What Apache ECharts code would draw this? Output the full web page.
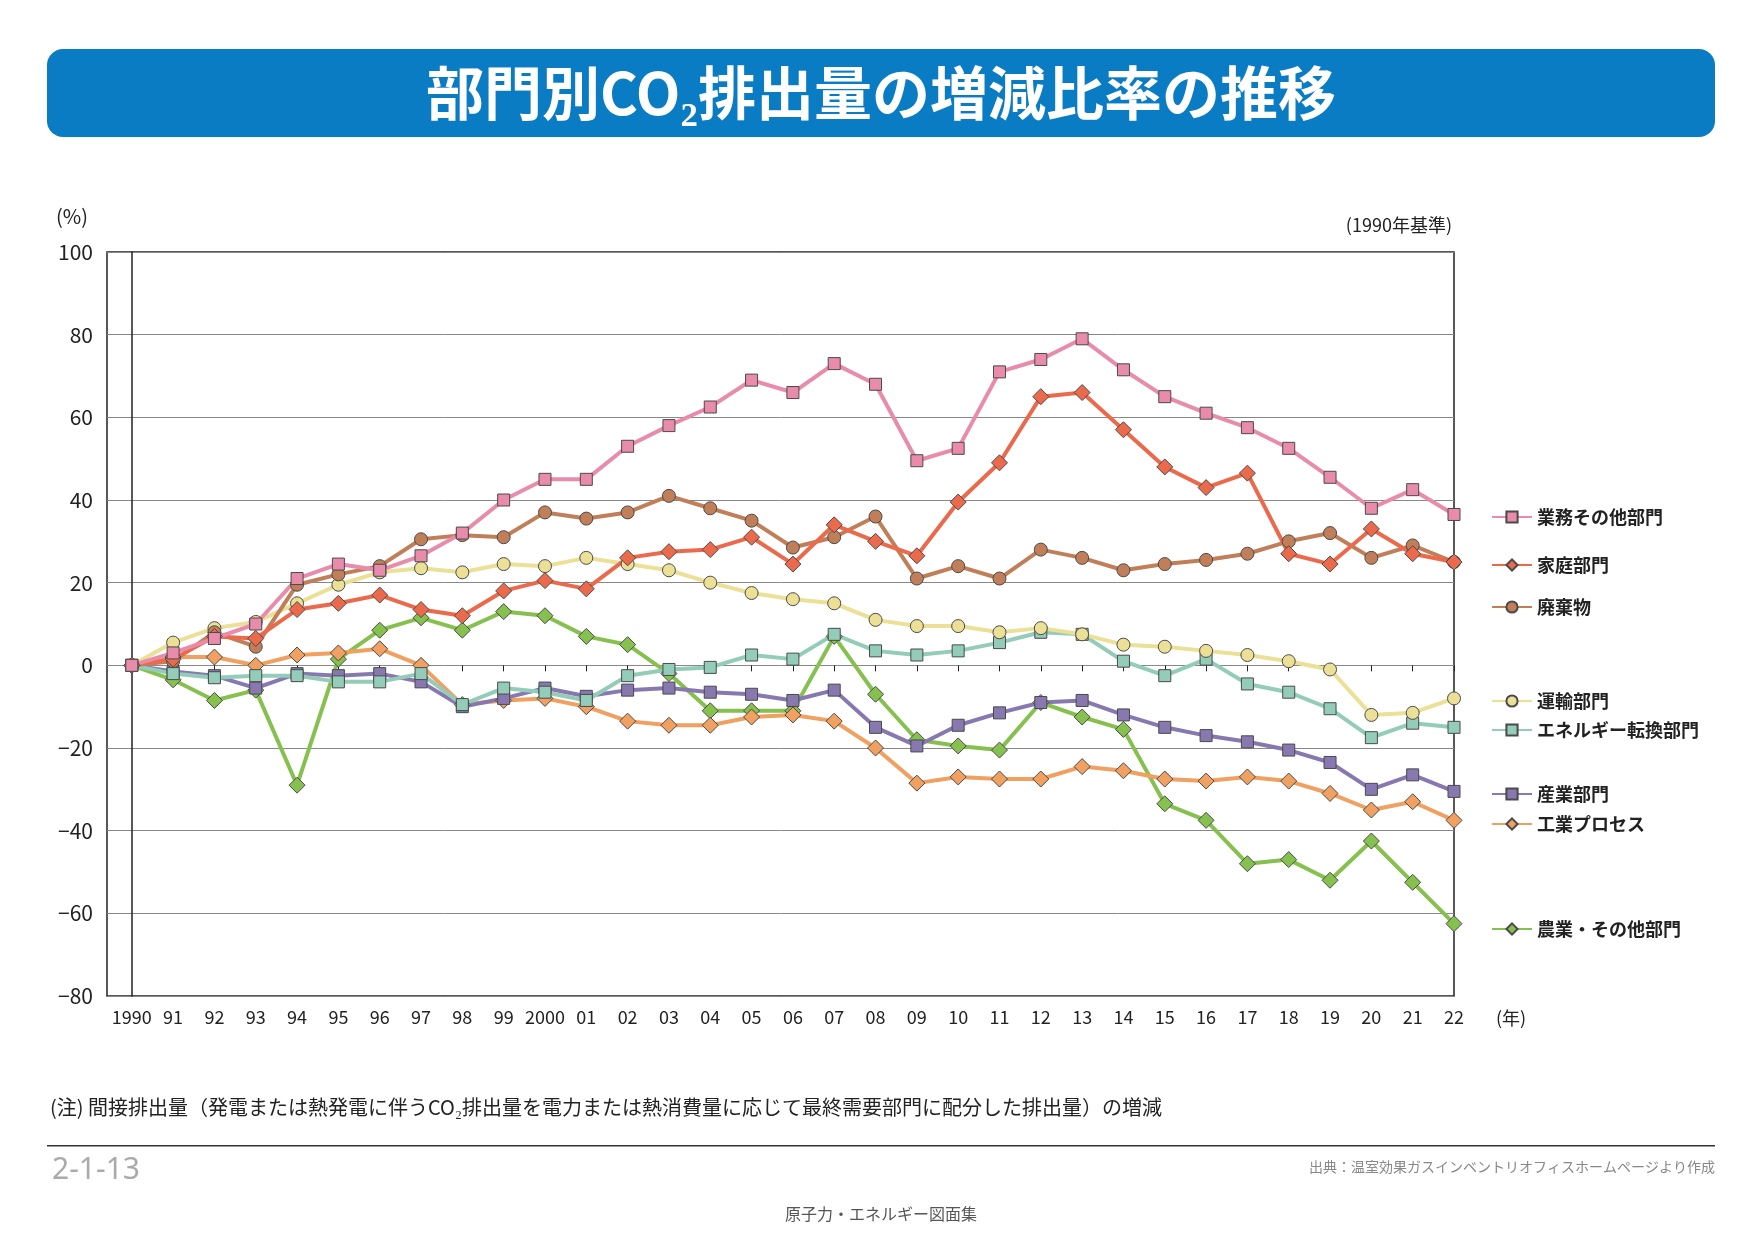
<!DOCTYPE html>
<html><head><meta charset="utf-8">
<script src="https://cdn.jsdelivr.net/npm/echarts@6/dist/echarts.min.js"></script>
<style>html,body{margin:0;padding:0;background:#fff}#main{width:1754px;height:1240px}</style>
</head><body><div id="main"></div>
<script>
var years = ['1990','91','92','93','94','95','96','97','98','99','2000','01','02','03','04','05','06','07','08','09','10','11','12','13','14','15','16','17','18','19','20','21','22'];
var gyomu   = [0,3,6.5,10,21,24.5,23,26.5,32,40,45,45,53,58,62.5,69,66,73,68,49.5,52.5,71,74,79,71.5,65,61,57.5,52.5,45.5,38,42.5,36.5];
var katei   = [0,1.5,7,6.5,13.5,15,17,13.5,12,18,20.5,18.5,26,27.5,28,31,24.5,34,30,26.5,39.5,49,65,66,57,48,43,46.5,27,24.5,33,27,25];
var haiki   = [0,1,8,4.5,19.5,22,24,30.5,31.5,31,37,35.5,37,41,38,35,28.5,31,36,21,24,21,28,26,23,24.5,25.5,27,30,32,26,29,25];
var unyu    = [0,5.5,9,10.5,15,19.5,22.5,23.5,22.5,24.5,24,26,24.5,23,20,17.5,16,15,11,9.5,9.5,8,9,7.5,5,4.5,3.5,2.5,1,-1,-12,-11.5,-8];
var energy  = [0,-2,-3,-2.5,-2.5,-4,-4,-2,-9.5,-5.5,-6.5,-8.5,-2.5,-1,-0.5,2.5,1.5,7.5,3.5,2.5,3.5,5.5,8,7.5,1,-2.5,1.5,-4.5,-6.5,-10.5,-17.5,-14,-15];
var sangyo  = [0,-1.5,-2.5,-5.5,-2,-2.5,-2,-4,-10,-8,-5.5,-7.5,-6,-5.5,-6.5,-7,-8.5,-6,-15,-19.5,-14.5,-11.5,-9,-8.5,-12,-15,-17,-18.5,-20.5,-23.5,-30,-26.5,-30.5];
var process = [0,2,2,0,2.5,3,4,0,-9.5,-8.5,-8,-10,-13.5,-14.5,-14.5,-12.5,-12,-13.5,-20,-28.5,-27,-27.5,-27.5,-24.5,-25.5,-27.5,-28,-27,-28,-31,-35,-33,-37.5];
var nogyo   = [0,-3.5,-8.5,-6,-29,1.5,8.5,11.5,8.5,13,12,7,5,-2,-11,-11,-11,7,-7,-18,-19.5,-20.5,-9,-12.5,-15.5,-33.5,-37.5,-48,-47,-52,-42.5,-52.5,-62.5];
var yTicks = [-80,-60,-40,-20,0,20,40,60,80,100];

var defs = [
  {name:'業務その他部門', data:gyomu, color:'#e98bab', symbol:'rect', ly:514},
  {name:'家庭部門', data:katei, color:'#ec6a4c', symbol:'diamond', ly:562},
  {name:'廃棄物', data:haiki, color:'#c07f58', symbol:'circle', ly:604},
  {name:'運輸部門', data:unyu, color:'#ebe096', symbol:'circle', ly:698},
  {name:'エネルギー転換部門', data:energy, color:'#93ccb8', symbol:'rect', ly:727},
  {name:'産業部門', data:sangyo, color:'#8878b0', symbol:'rect', ly:791},
  {name:'工業プロセス', data:process, color:'#f0a060', symbol:'diamond', ly:821},
  {name:'農業・その他部門', data:nogyo, color:'#86c04f', symbol:'diamond', ly:926}
];
var idx = years.map(function(y,i){return i;});
var series = [], legends = [];
for (var k = defs.length - 1; k >= 0; k--) {
  var d = defs[k];
  series.push({
    name:d.name, type:'line', symbol:d.symbol,
    symbolSize: d.symbol=='diamond' ? 16 : (d.symbol=='rect' ? 12 : 13),
    data:d.data.map(function(v,i){return [i,v];}),
    lineStyle:{color:d.color, width:4},
    itemStyle:{color:d.color, borderColor:'#4a4a4a', borderWidth:1},
    emphasis:{disabled:true}
  });
  legends.push({data:[d.name], left:1486, top:d.ly-11, itemWidth:40, itemHeight:14,
    textStyle:{fontSize:18, fontWeight:'bold', color:'#222', fontFamily:'Noto Sans CJK JP'}});
}

var chart = echarts.init(document.getElementById('main'));
chart.setOption({
  animation:false,
  textStyle:{fontFamily:'Noto Sans CJK JP'},
  grid:{left:107, right:300, top:252, bottom:244, show:true, borderColor:'#222', borderWidth:1.5},
  legend:legends,
  xAxis:{type:'value', min:-0.6, max:32,
    axisLine:{show:false},
    axisTick:{show:true, customValues:idx, length:6, inside:false, lineStyle:{color:'#222'}},
    axisLabel:{customValues:idx, fontSize:18, color:'#222', margin:12,
      formatter:function(v){return years[Math.round(v)];}},
    splitLine:{show:false}},
  yAxis:{type:'value', min:-80, max:100, interval:20,
    axisLine:{show:true, lineStyle:{color:'#222', width:1.5}},
    axisTick:{show:false},
    axisLabel:{fontSize:21, color:'#222', margin:14,
      formatter:function(v){return yTicks.indexOf(v) >= 0 && v < 0 ? '\u2212' + (-v) : String(v);}},
    splitLine:{lineStyle:{color:'#888', width:1}}},
  series:series,
  graphic:[
    {type:'rect', shape:{x:47, y:49, width:1668, height:88, r:16}, style:{fill:'#0a7cc4'}},
    {type:'text', x:881, y:93, style:{text:'部門別CO₂排出量の増減比率の推移', fill:'#fff', font:'bold 58px "Noto Sans CJK JP"', align:'center', verticalAlign:'middle'}},
    {type:'text', x:56, y:206, style:{text:'(%)', fill:'#222', font:'20px "Noto Sans CJK JP"'}},
    {type:'text', x:1452, y:216, style:{text:'(1990年基準)', fill:'#222', font:'18px "Noto Sans CJK JP"', align:'right'}},
    {type:'text', x:1496, y:1009, style:{text:'(年)', fill:'#222', font:'18px "Noto Sans CJK JP"'}},
    {type:'text', x:50, y:1097, style:{text:'(注) 間接排出量（発電または熱発電に伴うCO₂排出量を電力または熱消費量に応じて最終需要部門に配分した排出量）の増減', fill:'#222', font:'20px "Noto Sans CJK JP"'}},
    {type:'rect', shape:{x:47, y:1145, width:1668, height:1.5}, style:{fill:'#333'}},
    {type:'text', x:52, y:1155, style:{text:'2-1-13', fill:'#aaa', font:'30px "Noto Sans"'}},
    {type:'text', x:1715, y:1160, style:{text:'出典：温室効果ガスインベントリオフィスホームページより作成', fill:'#888', font:'14px "Noto Sans CJK JP"', align:'right'}},
    {type:'text', x:881, y:1206, style:{text:'原子力・エネルギー図面集', fill:'#555', font:'16px "Noto Sans CJK JP"', align:'center'}}
  ]
});
</script></body></html>
